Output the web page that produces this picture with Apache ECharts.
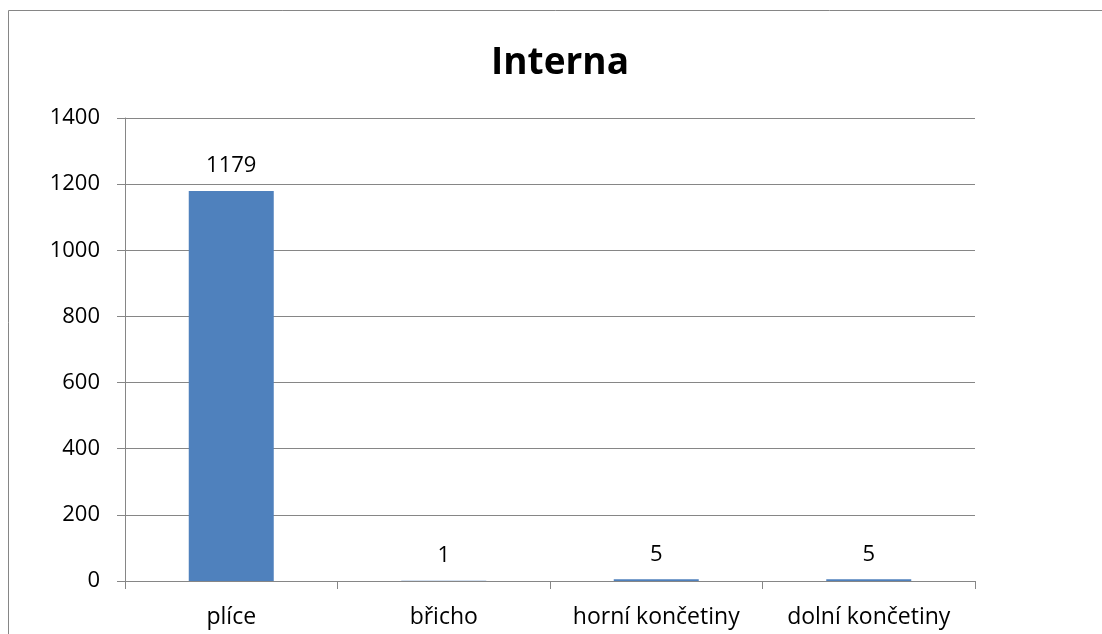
<!DOCTYPE html>
<html>
<head>
<meta charset="utf-8">
<script src="https://cdn.jsdelivr.net/npm/echarts@6/dist/echarts.min.js"></script>
<style>
html,body{margin:0;padding:0;background:#fff;}
#c{width:1102px;height:634px;}
</style>
</head>
<body>
<div id="c"></div>
<script>
var categories = ['plíce', 'břicho', 'horní končetiny', 'dolní končetiny'];
var values = [1179, 1, 5, 5];
var yTicks = [0, 200, 400, 600, 800, 1000, 1200, 1400];
var chartTitle = 'Interna';

var chart = echarts.init(document.getElementById('c'));
var gray = '#868686';
var font = '"Open Sans", sans-serif';
chart.setOption({
  animation: false,
  backgroundColor: '#fff',
  graphic: [{
    type: 'rect',
    shape: {x: 8.5, y: 10.5, width: 1200, height: 700},
    style: {fill: 'none', stroke: gray, lineWidth: 1},
    silent: true
  }],
  title: {
    text: chartTitle,
    left: 555,
    top: 40,
    textAlign: 'center',
    textStyle: {fontFamily: font, fontWeight: 'bold', fontSize: 37, color: '#000'}
  },
  grid: {left: 125, right: 127, top: 118, bottom: 53, containLabel: false},
  xAxis: {
    type: 'category',
    data: categories,
    axisLine: {lineStyle: {color: gray, width: 1}},
    axisTick: {show: true, length: 8, alignWithLabel: false, lineStyle: {color: gray}},
    axisLabel: {margin: 25, fontFamily: font, fontSize: 23, color: '#000', interval: 0}
  },
  yAxis: {
    type: 'value',
    min: yTicks[0],
    max: yTicks[yTicks.length - 1],
    interval: yTicks[1] - yTicks[0],
    axisLine: {show: true, lineStyle: {color: gray, width: 1}},
    axisTick: {show: true, length: 8, lineStyle: {color: gray}},
    axisLabel: {margin: 25, fontFamily: font, fontSize: 22, color: '#000', formatter: function (v) { return String(v); }},
    splitLine: {show: true, lineStyle: {color: gray, width: 1}}
  },
  series: [{
    type: 'bar',
    data: values,
    barWidth: '40%',
    itemStyle: {color: '#4F81BD'},
    label: {show: true, position: 'top', distance: 14, fontFamily: font, fontSize: 22, color: '#000'}
  }]
});
</script>
</body>
</html>
